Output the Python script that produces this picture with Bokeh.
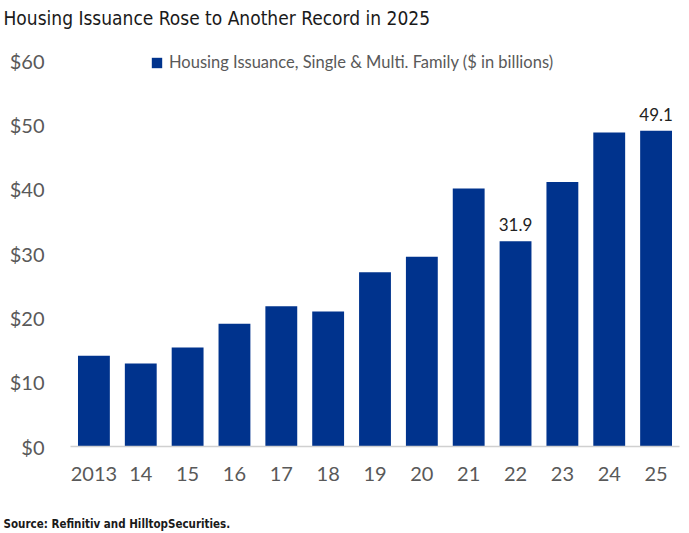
from bokeh.plotting import figure
from bokeh.models import ColumnDataSource, Legend, LegendItem, Title, NumeralTickFormatter, FactorRange
from bokeh.core.properties import value
from bokeh.embed import file_html
from bokeh.resources import INLINE

years = ["2013", "14", "15", "16", "17", "18", "19", "20", "21", "22", "23", "24", "25"]
issuance = [14.1, 12.9, 15.4, 19.1, 21.8, 21.0, 27.1, 29.5, 40.1, 31.9, 41.1, 48.8, 49.1]
labeled_years = ["22", "25"]
y_ticks = [0, 10, 20, 30, 40, 50, 60]

BAR = "#00338D"
GRAY = "#595959"
COND = "DejaVu Sans Condensed"
LIGHT = "Lato"

src = ColumnDataSource(dict(x=years, y=issuance))
lab_vals = [issuance[years.index(k)] for k in labeled_years]
lab_src = ColumnDataSource(dict(x=labeled_years, y=lab_vals, t=["%.1f" % v for v in lab_vals]))

p = figure(width=688, height=532, x_range=FactorRange(*years, range_padding=0), y_range=(0, 61.4),
           output_backend="svg", toolbar_location=None,
           min_border_left=70, min_border_right=9, min_border_top=51, min_border_bottom=86)
p.outline_line_color = None
p.background_fill_color = "white"
p.border_fill_color = "white"
p.xgrid.grid_line_color = None
p.ygrid.grid_line_color = None
p.title.text = ""
p.title.visible = False

r = p.vbar(x="x", top="y", width=0.68, source=src, fill_color=BAR, line_color=None)
p.text(x="x", y="y", text="t", source=lab_src, text_align="center", text_baseline="bottom",
       y_offset=-10, text_font=value(LIGHT), text_font_size="17px", text_color="#222222")

# spacer then main title (stacked outward from the frame)
p.add_layout(Title(text=" ", text_font_size="2px", standoff=17), "above")
p.add_layout(Title(text="Housing Issuance Rose to Another Record in 2025", align="left", offset=-67,
                   text_font=COND, text_font_size="19px", text_font_style="normal",
                   text_color="#1a1a1a", standoff=4), "above")

p.add_layout(Title(text=" ", text_font_size="2px", standoff=25), "below")
p.add_layout(Title(text="Source: Refinitiv and HilltopSecurities.", align="left", offset=-67,
                   text_font=COND, text_font_size="11.5px", text_font_style="bold",
                   text_color="#1a1a1a", standoff=4), "below")

p.yaxis.ticker = y_ticks
p.yaxis.formatter = NumeralTickFormatter(format="$0")
p.yaxis.axis_line_color = None
p.yaxis.major_tick_line_color = None
p.yaxis.minor_tick_line_color = None
p.yaxis.major_label_standoff = 20
p.yaxis.major_label_text_font = LIGHT
p.yaxis.major_label_text_font_size = "20px"
p.yaxis.major_label_text_color = GRAY

p.xaxis.axis_line_color = "#d0d0d0"
p.xaxis.axis_line_width = 1.5
p.xaxis.major_tick_line_color = None
p.xaxis.minor_tick_line_color = None
p.xaxis.major_label_standoff = 14
p.xaxis.major_label_text_font = LIGHT
p.xaxis.major_label_text_font_size = "20px"
p.xaxis.major_label_text_color = GRAY

legend = Legend(items=[LegendItem(label="Housing Issuance, Single & Multi. Family ($ in billions)", renderers=[r])],
                location=(80, 374), orientation="horizontal", border_line_color=None,
                background_fill_alpha=0, glyph_width=13, glyph_height=13, label_standoff=6,
                label_text_font=LIGHT, label_text_font_size="16.5px", label_text_color=GRAY,
                padding=0, margin=0)
p.add_layout(legend, "center")

html = file_html(p, INLINE)
html = html.replace("<head>", "<head><style>html,body{margin:0;padding:0;overflow:hidden}</style>", 1)
open("out.html", "w").write(html)
